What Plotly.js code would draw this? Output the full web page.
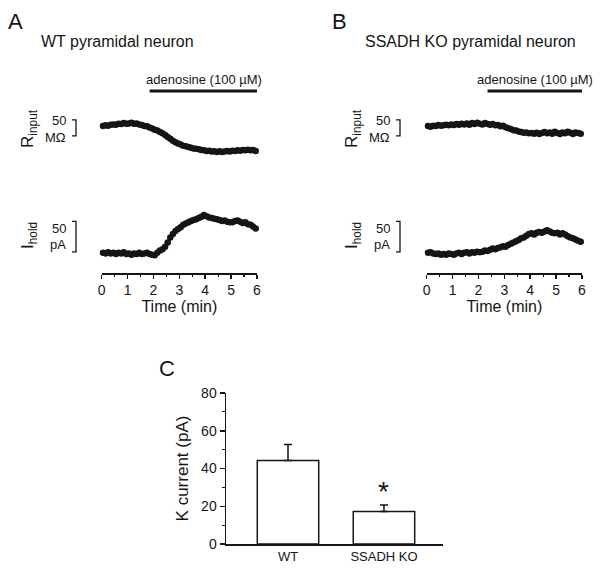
<!DOCTYPE html>
<html>
<head>
<meta charset="utf-8">
<script src="https://cdn.plot.ly/plotly-3.0.1.min.js"></script>
<style>html,body{margin:0;padding:0;background:#fff}#chart{width:600px;height:574px}</style>
</head>
<body>
<div id="chart"></div>
<script>
// ---- DATA ----
var timeMin = [0.05,0.15,0.25,0.35,0.45,0.55,0.65,0.75,0.85,0.95,1.05,1.15,1.25,1.35,1.45,1.55,1.65,1.75,1.85,1.95,
  2.05,2.15,2.25,2.35,2.45,2.55,2.65,2.75,2.85,2.95,3.05,3.15,3.25,3.35,3.45,3.55,3.65,3.75,3.85,3.95,
  4.05,4.15,4.25,4.35,4.45,4.55,4.65,4.75,4.85,4.95,5.05,5.15,5.25,5.35,5.45,5.55,5.65,5.75,5.85,5.95];
// change in input resistance (MOhm), WT
var rInputWT = [0,2,1,4,5,4,7,6,9,7,8,10,7,8,5,3,0,-1,-5,-8,
  -12,-14,-19,-23,-28,-34,-40,-46,-51,-55,-58,-62,-63,-66,-68,-70,-71,-73,-75,-76,
  -78,-77,-80,-79,-81,-79,-81,-80,-78,-80,-77,-78,-76,-77,-75,-76,-74,-76,-75,-78];
// change in holding current (pA), WT
var iHoldWT = [0,-1,1,-1,0,-2,0,-1,1,-2,-1,-3,-1,-2,0,-2,-1,0,-2,-3,
  -4,0,4,6,10,17,25,31,36,39,42,46,48,50,52,54,55,57,59,62,
  60,58,57,56,55,54,52,53,51,50,50,52,53,51,49,50,47,46,43,40];
// change in input resistance (MOhm), SSADH KO
var rInputKO = [0,-2,1,0,3,1,2,4,2,5,3,6,4,7,5,8,4,9,6,10,
  7,5,9,6,4,6,2,3,-1,1,-4,-7,-9,-13,-14,-17,-19,-21,-20,-23,
  -22,-24,-21,-25,-22,-19,-23,-20,-24,-18,-22,-25,-20,-23,-18,-21,-25,-20,-22,-24];
// change in holding current (pA), SSADH KO
var iHoldKO = [0,1,-1,-2,-1,-3,-2,-3,-1,-2,-3,-1,0,-2,0,1,-1,1,0,2,
  1,2,4,3,5,7,6,8,9,11,10,13,15,17,19,21,24,25,28,31,
  32,30,33,34,33,35,37,35,33,32,33,30,32,30,27,25,24,22,20,18];
var adenosineWT = [1.85, 6.05];   // min
var adenosineKO = [2.35, 6.05];   // min
var scaleR = 50;  // MOhm
var scaleI = 50;  // pA
var timeTicks = [0,1,2,3,4,5,6];

var groups = ['WT', 'SSADH KO'];
var kCurrent = [44.2, 17.2];
var kCurrentSEM = [8.5, 3.5];

// ---- LAYOUT HELPERS ----
var W = 600, H = 574;
function px(x){ return x / W; }
function py(y){ return 1 - y / H; }
var FONT = 'Liberation Sans, Arial, sans-serif';
var INK = '#151515';

function traceAxis(dom, posY){
  return {domain: dom, range: [0, 6], anchor: 'free', position: posY,
    showline: true, linecolor: INK, linewidth: 1.5, ticks: 'outside', ticklen: 4, tickwidth: 1.5, tickcolor: INK,
    tickvals: timeTicks, showgrid: false, zeroline: false,
    minor: {dtick: 0.5, ticklen: 2.5, tickwidth: 1.2, tickcolor: INK, ticks: 'outside'},
    tickfont: {size: 14, color: INK, family: FONT},
    title: {text: 'Time (min)', font: {size: 16, color: INK, family: FONT}, standoff: 2}};
}
function hiddenY(dom, rng){
  return {domain: dom, range: rng, visible: false, showgrid: false, zeroline: false, fixedrange: true};
}

// y-axis domains in pixels -> paper; scales: R 50 MOhm = 16.5 px, I 50 pA = 30.5 px
var rDom = [py(166), py(110)];
var rRange = [-125, 50];
var iDom = [py(262), py(200)];
var iRange = [-15, 86.6];

function dots(x, y, xa, ya){
  return {x: x, y: y, xaxis: xa, yaxis: ya, type: 'scatter', mode: 'lines+markers',
    line: {color: INK, width: 3}, marker: {color: INK, size: 6.5},
    cliponaxis: false, hoverinfo: 'skip', showlegend: false};
}

var data = [
  dots(timeMin, rInputWT, 'x', 'y'),
  dots(timeMin, iHoldWT, 'x', 'y2'),
  dots(timeMin, rInputKO, 'x2', 'y3'),
  dots(timeMin, iHoldKO, 'x2', 'y4'),
  {x: [0, 1], y: kCurrent, xaxis: 'x3', yaxis: 'y5', type: 'bar', width: 0.64,
   marker: {color: '#ffffff', line: {color: INK, width: 1.5}},
   error_y: {type: 'data', symmetric: false, array: kCurrentSEM, arrayminus: [0, 0],
             color: INK, thickness: 1.5, width: 4},
   hoverinfo: 'skip', showlegend: false}
];

var shapes = [];
var annotations = [];

function bracket(xPx, yref, top, bottom){
  var x0 = px(xPx - 4), x1 = px(xPx);
  shapes.push({type: 'path', xref: 'paper', yref: yref,
    path: 'M ' + x0 + ',' + top + ' L ' + x1 + ',' + top + ' L ' + x1 + ',' + bottom + ' L ' + x0 + ',' + bottom,
    line: {color: INK, width: 1.3}});
}
function txt(t, x, y, size, opts){
  var a = {text: t, x: x, y: y, xref: 'paper', yref: 'paper', showarrow: false,
    font: {size: size, color: INK, family: FONT}, xanchor: 'center', yanchor: 'middle'};
  for (var k in opts) a[k] = opts[k];
  annotations.push(a);
}

// panel A and B decorations
function panel(xa, yR, yI, adenosine, barX, labelX, letter, letterX, title, titleX){
  // scale bars
  bracket(barX, yR, -31 + scaleR, -31);
  bracket(barX, yI, 1.5 + scaleI, 1.5);
  txt('50', px(labelX), py(121), 13, {xanchor: 'right'});
  txt('MΩ', px(labelX), py(137), 13, {xanchor: 'right'});
  txt('50', px(labelX), py(228), 13, {xanchor: 'right'});
  txt('pA', px(labelX), py(245), 13, {xanchor: 'right'});
  txt('R<sub>input</sub>', px(labelX - 39), py(129), 17, {textangle: -90});
  txt('I<sub>hold</sub>', px(labelX - 39), py(236), 17, {textangle: -90});
  // adenosine bar
  shapes.push({type: 'line', xref: xa, yref: 'paper', x0: adenosine[0], x1: adenosine[1],
    y0: py(91), y1: py(91), line: {color: INK, width: 3}});
  annotations.push({text: 'adenosine (100 µM)', x: (adenosine[0] + adenosine[1]) / 2, y: py(80),
    xref: xa, yref: 'paper', showarrow: false, xanchor: 'center', yanchor: 'middle',
    font: {size: 13, color: INK, family: FONT}});
  txt(letter, px(letterX), py(21), 22, {xanchor: 'left'});
  txt(title, px(titleX), py(42), 16, {xanchor: 'left'});
}
panel('x', 'y', 'y2', adenosineWT, 76, 68, 'A', 6, 'WT pyramidal neuron', 39);
panel('x2', 'y3', 'y4', adenosineKO, 400, 392, 'B', 330, 'SSADH KO pyramidal neuron', 363);

txt('C', px(157), py(368), 22, {xanchor: 'left'});
annotations.push({text: '*', x: 1, y: 28, xref: 'x3', yref: 'y5', showarrow: false,
  font: {size: 28, color: INK, family: FONT}, xanchor: 'center', yanchor: 'middle'});

var layout = {
  width: W, height: H, margin: {l: 0, r: 0, t: 0, b: 0},
  paper_bgcolor: '#fff', plot_bgcolor: 'rgba(0,0,0,0)',
  font: {family: FONT, color: INK},
  showlegend: false,
  xaxis: traceAxis([px(101.7), px(257)], py(273)),
  yaxis: hiddenY(rDom, rRange),
  yaxis2: hiddenY(iDom, iRange),
  xaxis2: traceAxis([px(426.7), px(582)], py(273)),
  yaxis3: hiddenY(rDom, rRange),
  yaxis4: hiddenY(iDom, iRange),
  xaxis3: {domain: [px(226), px(443)], range: [-0.646, 1.615], anchor: 'y5',
    showline: true, linecolor: INK, linewidth: 1.5, ticks: '', tickvals: [0, 1], ticktext: groups,
    showgrid: false, zeroline: false, tickfont: {size: 13, color: INK, family: FONT}},
  yaxis5: {domain: [py(544), py(393)], range: [0, 80], anchor: 'x3',
    showline: true, linecolor: INK, linewidth: 1.5, ticks: 'outside', ticklen: 5, tickwidth: 1.5, tickcolor: INK,
    tickvals: [0, 20, 40, 60, 80], showgrid: false, zeroline: false,
    minor: {dtick: 10, ticklen: 3, tickwidth: 1.2, tickcolor: INK, ticks: 'outside'},
    tickfont: {size: 14, color: INK, family: FONT},
    title: {text: 'K current (pA)', font: {size: 17, color: INK, family: FONT}, standoff: 8}},
  shapes: shapes,
  annotations: annotations
};

Plotly.newPlot('chart', data, layout, {displayModeBar: false, staticPlot: true});
</script>
</body>
</html>
